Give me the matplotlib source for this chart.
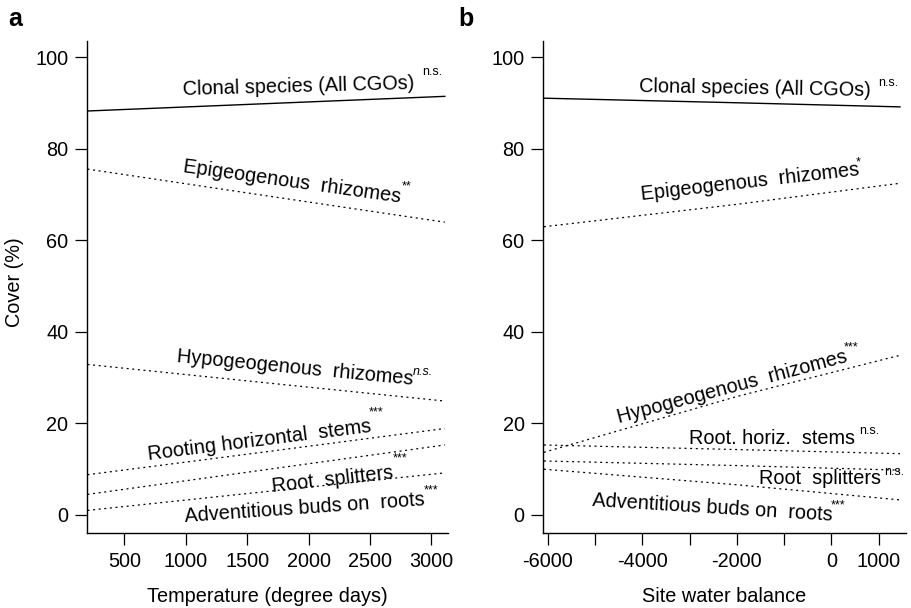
import matplotlib
matplotlib.use("Agg")
import matplotlib.pyplot as plt
import numpy as np

plt.rcParams['font.family'] = ['Liberation Sans', 'DejaVu Sans']

# ---------------- data ----------------
# Panel a: temperature (degree days)
temp_x = [200, 1650, 3110]
a_clonal = [88.3, 89.9, 91.5]
a_epi = [75.6, 69.8, 64.0]
a_hypo = [32.9, 28.9, 24.9]
a_rooting = [8.8, 13.8, 18.9]
a_splitters = [4.5, 9.9, 15.3]
a_adventitious = [1.0, 5.1, 9.2]

# Panel b: site water balance
swb_x = [-6080, -2000, 1450]
b_clonal = [91.1, 90.1, 89.2]
b_epi = [63.0, 67.9, 72.5]
b_hypo = [13.7, 25.9, 34.9]
b_roothoriz = [15.3, 14.3, 13.4]
b_splitters = [11.8, 10.8, 9.8]
b_adventitious = [10.0, 6.6, 3.3]

yticks = [0, 20, 40, 60, 80, 100]
a_xticks = [500, 1000, 1500, 2000, 2500, 3000]
b_xticks = [-6000, -5000, -4000, -3000, -2000, -1000, 0, 1000]
b_xticklabels = ['-6000', '', '-4000', '', '-2000', '', '0', '1000']

W, H = 912, 608
FS = 14.3
fig = plt.figure(figsize=(W / 100, H / 100), dpi=100)

def px_axes(l, t, r, b):
    return fig.add_axes([l / W, 1 - b / H, (r - l) / W, (b - t) / H])

axa = px_axes(87, 41, 448, 533)
axb = px_axes(543.3, 41, 905.7, 533)

dot = (0, (1.6, 2.9))
lw_dot = 0.9
for ax in (axa, axb):
    ax.set_ylim(-3.94, 103.6)
    ax.set_yticks(yticks)
    for s in ('top', 'right'):
        ax.spines[s].set_visible(False)
    for s in ('left', 'bottom'):
        ax.spines[s].set_linewidth(1.0)
    ax.tick_params(axis='both', length=8.5, width=0.9, labelsize=FS, pad=5)

axa.set_xlim(196, 3136)
axa.set_xticks(a_xticks)
axb.set_xlim(-6093, 1571)
axb.set_xticks(b_xticks)
axb.set_xticklabels(b_xticklabels)

axa.plot(temp_x, a_clonal, color='black', lw=1.0)
for ys in (a_epi, a_hypo, a_rooting, a_splitters, a_adventitious):
    axa.plot(temp_x, ys, color='black', lw=lw_dot, linestyle=dot)

axb.plot(swb_x, b_clonal, color='black', lw=1.0)
for ys in (b_epi, b_hypo, b_roothoriz, b_splitters, b_adventitious):
    axb.plot(swb_x, ys, color='black', lw=lw_dot, linestyle=dot)

axa.set_xlabel('Temperature (degree days)', fontsize=FS, labelpad=12)
axb.set_xlabel('Site water balance', fontsize=FS, labelpad=12)
fig.text(15 / W, 1 - 282 / H, 'Cover (%)', rotation=90, ha='center', va='center', fontsize=FS)

fig.text(8 / W, 1 - 19 / H, 'a', fontsize=18, fontweight='bold', ha='left', va='center')
fig.text(458 / W, 1 - 19 / H, 'b', fontsize=18, fontweight='bold', ha='left', va='center')

def lab(x, y, s, rot=0, size=FS, style='normal'):
    fig.text(x / W, 1 - y / H, s, rotation=rot, ha='center', va='center',
             fontsize=size, rotation_mode='anchor', style=style)

SS = 9
# panel a labels
lab(299, 86, 'Clonal species (All CGOs)', 1.5)
lab(432, 72, 'n.s.', 0, SS)
lab(292, 182, 'Epigeogenous  rhizomes', -8.0)
lab(407, 186, '**', 0, SS)
lab(295, 368, 'Hypogeogenous  rhizomes', -5.5)
lab(423, 372, 'n.s.', 0, SS, 'italic')
lab(259, 440, 'Rooting horizontal  stems', 7.2)
lab(376, 412, '***', 0, SS)
lab(333, 480, 'Root  splitters', 6.5)
lab(400, 458, '***', 0, SS)
lab(305, 508, 'Adventitious buds on  roots', 4.0)
lab(431, 490, '***', 0, SS)

# panel b labels
lab(755, 89, 'Clonal species (All CGOs)', -1.0)
lab(888, 83, 'n.s.', 0, SS)
lab(750, 182, 'Epigeogenous  rhizomes', 6.5)
lab(858, 162, '*', 0, SS)
lab(732, 387, 'Hypogeogenous  rhizomes', 15.0)
lab(851, 347, '***', 0, SS)
lab(772, 438, 'Root. horiz.  stems', 0)
lab(869, 431, 'n.s.', 0, SS)
lab(820, 478, 'Root  splitters', 0)
lab(894, 472, 'n.s.', 0, SS)
lab(712, 508, 'Adventitious buds on  roots', -3.5)
lab(838, 505, '***', 0, SS)

fig.savefig('out.png', dpi=100)
